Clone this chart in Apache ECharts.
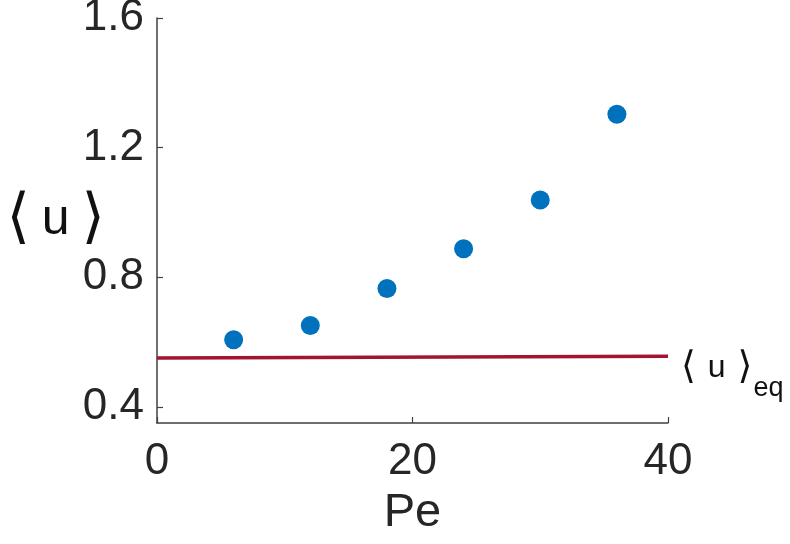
<!DOCTYPE html>
<html>
<head>
<meta charset="utf-8">
<script src="https://cdn.jsdelivr.net/npm/echarts@6/dist/echarts.min.js"></script>
<style>
  html, body { margin: 0; padding: 0; background: #fff; }
  #chart { width: 790px; height: 544px; }
</style>
</head>
<body>
<div id="chart"></div>
<script>
// Mean speed <u> against Péclet number
const peValues = [6, 12, 18, 24, 30, 36];
const meanU = [0.607, 0.651, 0.765, 0.888, 1.038, 1.303];

// Equilibrium reference level, drawn across the x range
const eqPe = [0, 40];
const eqU = [0.551, 0.556];

const yTicks = [0.4, 0.8, 1.2, 1.6];
const xTicks = [0, 20, 40];

const textColor = '#262626';
const axisColor = '#404040';
const fontFamily = '"Liberation Sans", Arial, Helvetica, sans-serif';
const bracketFont = '"DejaVu Sans", sans-serif';

const chart = echarts.init(document.getElementById('chart'));

chart.setOption({
  animation: false,
  backgroundColor: '#ffffff',
  grid: { left: 157, right: 122, top: 18, bottom: 121, containLabel: false, outerBoundsMode: 'none' },
  xAxis: {
    type: 'value',
    min: 0,
    max: 40,
    interval: 20,
    name: 'Pe',
    nameLocation: 'middle',
    nameGap: 67,
    nameMoveOverlap: false,
    nameTextStyle: { fontSize: 47, color: textColor, fontFamily },
    axisLine: { show: true, lineStyle: { color: axisColor, width: 1.5 } },
    axisTick: { show: true, inside: true, length: 6, lineStyle: { color: axisColor, width: 1.2 }, customValues: xTicks },
    axisLabel: { fontSize: 44, color: textColor, fontFamily, margin: 17, customValues: xTicks },
    splitLine: { show: false }
  },
  yAxis: {
    type: 'value',
    min: 0.35,
    max: 1.6,
    name: '{br|⟨}{u|u}{br|⟩}',
    nameLocation: 'middle',
    nameRotate: 0,
    nameGap: 52,
    nameMoveOverlap: false,
    nameTextStyle: {
      color: '#111111', fontFamily, align: 'right', verticalAlign: 'middle',
      rich: {
        br: { fontSize: 60, color: '#111111', fontFamily: bracketFont, lineHeight: 64 },
        u: { fontSize: 50, color: '#111111', fontFamily, lineHeight: 64, padding: [0, 12, 0, 12] }
      }
    },
    axisLine: { show: true, lineStyle: { color: axisColor, width: 1.5 } },
    axisTick: { show: true, inside: true, length: 6, lineStyle: { color: axisColor, width: 1.2 }, customValues: yTicks },
    axisLabel: {
      fontSize: 44, color: textColor, fontFamily, margin: 13,
      customValues: yTicks,
      formatter: v => v.toFixed(1)
    },
    splitLine: { show: false }
  },
  series: [
    {
      name: 'eq',
      type: 'line',
      data: eqPe.map((x, i) => [x, eqU[i]]),
      showSymbol: false,
      symbol: 'none',
      lineStyle: { color: '#A2142F', width: 3.5 },
      z: 2,
      endLabel: {
        show: true,
        distance: 13,
        offset: [0, 12],
        formatter: '{br|⟨}{b|u}{br|⟩}{s|eq}',
        rich: {
          br: { fontSize: 38, color: '#111111', fontFamily: bracketFont, lineHeight: 44 },
          b: { fontSize: 32, color: '#111111', fontFamily, lineHeight: 44, padding: [0, 12, 0, 12] },
          s: { fontSize: 27, color: '#111111', fontFamily, lineHeight: 44, padding: [40, 0, 0, 1] }
        }
      }
    },
    {
      name: 'u',
      type: 'scatter',
      data: peValues.map((x, i) => [x, meanU[i]]),
      symbol: 'circle',
      symbolSize: 19,
      itemStyle: { color: '#0072BD', opacity: 1 },
      z: 3
    }
  ]
});
</script>
</body>
</html>
